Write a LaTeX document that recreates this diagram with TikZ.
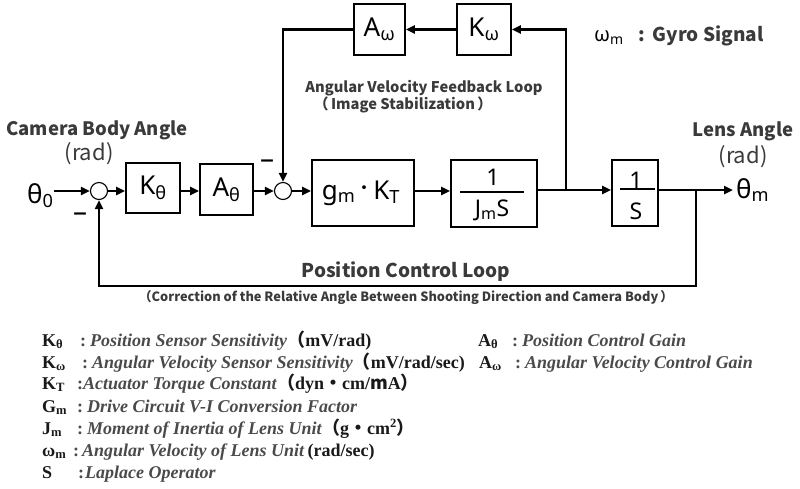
\documentclass[tikz,border=0pt]{standalone}
\usepackage{fontspec}
\setmainfont{Liberation Serif}
\newfontfamily\lab{Noto Sans}
\newfontfamily\cjk{Noto Sans CJK JP}
\usetikzlibrary{arrows.meta}
\definecolor{txt}{HTML}{3A3A3A}
\definecolor{leg}{HTML}{4A4A4A}
\newcommand\sub[1]{\textsubscript{#1}}
\newcommand\cj[1]{{\cjk #1}}
\begin{document}
\begin{tikzpicture}[x=1pt,y=-1pt,
  blk/.style={draw, line width=1.8pt, inner sep=0pt},
  big/.style={font=\lab\fontsize{26}{28}\selectfont, inner sep=0pt},
  frac/.style={font=\lab\fontsize{23}{25}\selectfont, inner sep=0pt},
  sumj/.style={draw, circle, line width=1.1pt, minimum size=17pt, inner sep=0pt},
  ln/.style={line width=2.8pt},
  arr/.style={ln, -{Triangle[length=9pt,width=8pt]}},
  lbl/.style={font=\cjk\bfseries\fontsize{18.5}{21}\selectfont, text=txt, inner sep=0pt},
  unit/.style={font=\cjk\fontsize{22}{24}\selectfont, text=txt, inner sep=0pt},
  sm/.style={font=\cjk\bfseries\fontsize{14.7}{17}\selectfont, text=txt, inner sep=0pt},
  xs/.style={font=\cjk\bfseries\fontsize{12.8}{15}\selectfont, text=txt, inner sep=0pt},
  sym/.style={font=\bfseries\fontsize{18}{20}\selectfont, text=black!90, inner sep=0pt, anchor=base west},
  desc/.style={font=\bfseries\fontsize{18}{20}\selectfont, text=leg, inner sep=0pt, anchor=base west},
  minus/.style={font=\lab\fontsize{28}{30}\selectfont, inner sep=0pt}
]
\useasboundingbox (0,0) rectangle (800,488);

% summing junctions
\node[sumj] (sum1) at (99,191) {};
\node[sumj] (sum2) at (283,191) {};

% blocks
\node[blk, minimum width=54pt, minimum height=50pt] (Kt) at (153,188) {};
\node[big] at (Kt.center) {K\sub{θ}};
\node[blk, minimum width=53pt, minimum height=51pt] (At) at (226.5,189.5) {};
\node[big] at (At.center) {A\sub{θ}};
\node[blk, minimum width=102pt, minimum height=66pt] (G) at (363,193) {};
\node[big] at (361,193) {g\sub{m}\raisebox{4.5pt}{\fontsize{18}{20}\selectfont\cj{・}}K\sub{T}};
\node[blk, minimum width=86pt, minimum height=67pt] (J) at (494,193.5) {};
\node[frac] (J1) at (493,177) {1};
\node[frac] (J2) at (492,210) {J\sub{m}S};
\draw[line width=1.2pt] (460,192) -- (524,192);
\node[blk, minimum width=46pt, minimum height=66pt] (S) at (635,193) {};
\node[frac] (S1) at (636,180) {1};
\node[frac] (S2) at (636,211) {S};
\draw[line width=1.2pt] (620,189) -- (655,189);
\node[blk, minimum width=51pt, minimum height=51pt] (Aw) at (379.5,29.5) {};
\node[big] at (Aw.center) {A\sub{ω}};
\node[blk, minimum width=54pt, minimum height=51pt] (Kw) at (484,29.5) {};
\node[big] at (Kw.center) {K\sub{ω}};

% input / output
\node[big, anchor=base west] (th0) at (27,203) {θ\sub{0}};
\node[big, anchor=base west] (thm) at (736,198) {θ\sub{m}};

% connectors
\draw[arr] (th0.east |- sum1) -- (sum1.west);
\draw[arr] (sum1.east) -- (sum1 -| Kt.west);
\draw[arr] (Kt.east |- sum1) -- (sum1 -| At.west);
\draw[arr] (At.east |- sum1) -- (sum2.west);
\draw[arr] (sum2.east) -- (sum2 -| G.west);
\draw[arr] (G.east |- sum2) -- (sum2 -| J.west);
\coordinate (br) at (566,190);
\draw[ln] (J.east |- br) -- (br);
\draw[arr] (br) -- (br -| S.west);
\draw[arr] (br) |- (Kw.east);
\draw[arr] (Kw.west) -- (Aw.east);
\draw[arr] (Aw.west) -| (sum2.north);
\coordinate (tap) at (696,190);
\coordinate (bot) at (696,286);
\draw[arr, shorten >=3pt] (S.east |- tap) -- (thm.west |- tap);
\draw[arr] (tap) -- (bot) -| (sum1.south);

% minus signs
\node[minus] (m1) at (80,217) {–};
\node[minus] (m2) at (267,164) {–};

% labels
\node[lbl] (cba) at (97,130) {Camera Body Angle};
\node[unit] (rad1) at (89,154) {(rad)};
\node[lbl] (la) at (743,131) {Lens Angle};
\node[unit] (rad2) at (743,157) {(rad)};
\node[font=\lab\fontsize{20}{22}\selectfont, inner sep=0pt, anchor=west] (wm) at (594,38) {ω\sub{m}};
\node[lbl, anchor=west, font=\cjk\bfseries\fontsize{19}{21}\selectfont] (gyro) at (638,36) {:\hspace{8pt}Gyro Signal};
\node[sm] (avf) at (424,88) {Angular Velocity Feedback Loop};
\node[sm] (is) at (403,105) {（\,Image Stabilization\,）};
\node[lbl, font=\cjk\bfseries\fontsize{19}{21}\selectfont] (pcl) at (406,272) {Position Control Loop};
\node[xs] (corr) at (406,297) {（Correction of the Relative Angle Between Shooting Direction and Camera Body\,）};

% legend
\node[sym] (l1s) at (42,346) {K\sub{θ}};
\node[desc] (l1t) at (80,346) {:\hspace{4pt}\textit{Position Sensor Sensitivity}\textcolor{black!90}{\cj{（}mV/rad)}};
\node[sym] (l2s) at (42,368) {K\sub{ω}};
\node[desc] (l2t) at (82,368) {:\hspace{4pt}\textit{Angular Velocity Sensor Sensitivity}\textcolor{black!90}{\cj{（}mV/rad/sec)}};
\node[sym] (l3s) at (42,389) {K\sub{T}};
\node[desc] (l3t) at (77,389) {:\textit{Actuator Torque Constant}\textcolor{black!90}{\cj{（}dyn\cj{・}cm/\cj{m}A\cj{）}}};
\node[sym] (l4s) at (42,412) {G\sub{m}};
\node[desc] (l4t) at (77,412) {:\hspace{4pt}\textit{Drive Circuit V-I Conversion Factor}};
\node[sym] (l5s) at (42,434) {J\sub{m}};
\node[desc] (l5t) at (77,434) {:\hspace{4pt}\textit{Moment of Inertia of Lens Unit}\textcolor{black!90}{\cj{（}g\cj{・}cm\textsuperscript{2}\cj{）}}};
\node[sym] (l6s) at (42,456) {ω\sub{m}};
\node[desc] (l6t) at (73,456) {:\hspace{3pt}\textit{Angular Velocity of Lens Unit}\,\textcolor{black!90}{(rad/sec)}};
\node[sym] (l7s) at (42,478) {S};
\node[desc] (l7t) at (78,478) {:\hspace{1pt}\textit{Laplace Operator}};
\node[sym] (r1s) at (478,346) {A\sub{θ}};
\node[desc] (r1t) at (512,346) {:\hspace{4pt}\textit{Position Control Gain}};
\node[sym] (r2s) at (479,368) {A\sub{ω}};
\node[desc] (r2t) at (515,368) {:\hspace{4pt}\textit{Angular Velocity Control Gain}};
\end{tikzpicture}
\end{document}
